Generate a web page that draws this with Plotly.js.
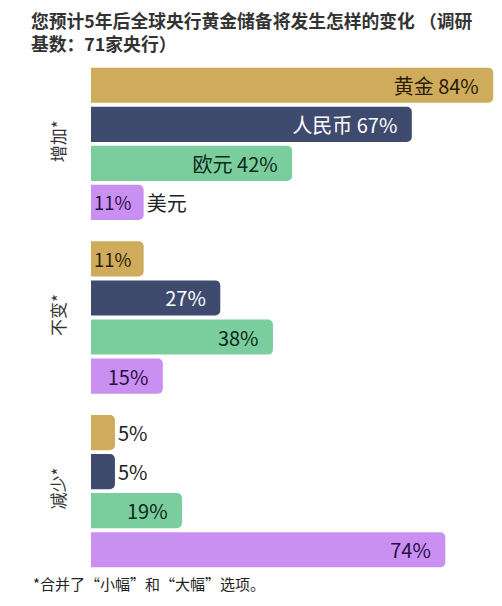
<!DOCTYPE html>
<html>
<head>
<meta charset="utf-8">
<script src="https://cdn.plot.ly/plotly-3.0.1.min.js"></script>
<style>html,body{margin:0;padding:0;background:#fff;}#chart{width:502px;height:606px;}</style>
</head>
<body>
<div id="chart"></div>
<script>
// ---- data ----
const groups = ['增加*', '不变*', '减少*'];
const assets = ['黄金', '人民币', '欧元', '美元'];
const gold = [84, 11, 5];
const rmb = [67, 27, 5];
const euro = [42, 38, 19];
const usd = [11, 15, 74];
const titleText = '您预计5年后全球央行黄金储备将发生怎样的变化 （调研<br>基数：71家央行）';
const noteText = '*合并了“小幅”和“大幅”选项。';

// ---- styles ----
const colors = ['#CFAC5C', '#3E4A6E', '#7ACE9E', '#C990F2'];
const textColors = ['#2A1C06', '#FFFFFF', '#0E2A18', '#2A0E46'];
const FONT = '"Noto Sans CJK SC", "Noto Sans", sans-serif';
const series = [gold, rmb, euro, usd];

const traces = series.map((vals, i) => ({
  type: 'bar',
  orientation: 'h',
  name: assets[i],
  offsetgroup: assets[i],
  y: groups,
  x: vals,
  text: vals.map((v, j) => (j === 0 && i < 3 ? assets[i] + ' ' : '') + v + '%\u2002'),
  textposition: 'auto',
  insidetextanchor: 'end',
  constraintext: 'none',
  cliponaxis: false,
  insidetextfont: {family: FONT, size: 20, color: textColors[i]},
  outsidetextfont: {family: FONT, size: 20, color: '#222'},
  marker: {color: colors[i], line: {width: 0}},
  hoverinfo: 'skip'
}));

// outside label for the USD bar in the first group
traces.push({
  type: 'bar',
  orientation: 'h',
  name: assets[3] + '-label',
  offsetgroup: assets[3],
  y: groups,
  x: usd,
  text: usd.map((v, j) => j === 0 ? assets[3] : ''),
  textposition: 'outside',
  cliponaxis: false,
  outsidetextfont: {family: FONT, size: 20, color: '#222'},
  marker: {color: 'rgba(0,0,0,0)', line: {width: 0}},
  hoverinfo: 'skip'
});

const layout = {
  width: 502,
  height: 606,
  paper_bgcolor: '#fff',
  plot_bgcolor: '#fff',
  showlegend: false,
  barmode: 'group',
  bargap: 0.1,
  bargroupgap: 0.1,
  barcornerradius: 5,
  margin: {l: 91, r: 4, t: 57, b: 28},
  font: {family: FONT, color: '#333'},
  title: {
    text: titleText,
    font: {family: FONT, size: 17.8, color: '#333', weight: 'bold'},
    x: 31 / 502, xanchor: 'left', xref: 'container',
    y: 1 - 28 / 606, yanchor: 'top', yref: 'container'
  },
  xaxis: {
    range: [0, 85],
    visible: false,
    fixedrange: true
  },
  yaxis: {
    type: 'category',
    categoryorder: 'array',
    categoryarray: groups,
    autorange: 'reversed',
    tickangle: -90,
    ticks: '',
    showline: false,
    showgrid: false,
    zeroline: false,
    ticklabelstandoff: 22,
    tickfont: {family: FONT, size: 17, color: '#333'},
    fixedrange: true
  },
  annotations: [{
    text: noteText,
    xref: 'paper', yref: 'paper',
    x: (31 - 91) / 407, xanchor: 'left',
    y: -(583 - 578) / 521, yanchor: 'middle',
    showarrow: false,
    font: {family: FONT, size: 15, color: '#222'}
  }]
};

Plotly.newPlot('chart', traces, layout, {displayModeBar: false, staticPlot: true});
</script>
</body>
</html>
